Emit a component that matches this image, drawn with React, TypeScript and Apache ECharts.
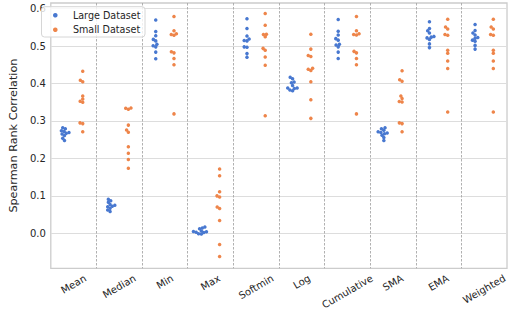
import React, { useEffect, useRef } from "react";
import * as echarts from "echarts";

// ---- data ----
const categories = ["Mean", "Median", "Min", "Max", "Softmin", "Log", "Cumulative", "SMA", "EMA", "Weighted"];
const seriesNames = ["Large Dataset", "Small Dataset"];

const largeMean = [0.282, 0.279, 0.274, 0.272, 0.269, 0.267, 0.265, 0.261, 0.254, 0.248];
const smallMean = [0.433, 0.409, 0.405, 0.367, 0.359, 0.353, 0.35, 0.295, 0.293, 0.271];
const largeMedian = [0.091, 0.087, 0.083, 0.077, 0.075, 0.072, 0.071, 0.067, 0.062, 0.058];
const smallMedian = [0.3345, 0.3315, 0.334, 0.289, 0.276, 0.27, 0.231, 0.214, 0.197, 0.174];
const largeMin = [0.57, 0.539, 0.528, 0.518, 0.514, 0.505, 0.501, 0.498, 0.484, 0.466];
const smallMin = [0.579, 0.541, 0.533, 0.531, 0.529, 0.485, 0.482, 0.467, 0.45, 0.319];
const largeMax = [0.017, 0.014, 0.012, 0.006, 0.005, 0.004, 0.003, 0.002, -0.001, -0.002];
const smallMax = [0.172, 0.154, 0.111, 0.1, 0.097, 0.07, 0.066, 0.034, -0.03, -0.062];
const largeSoftmin = [0.573, 0.547, 0.527, 0.519, 0.515, 0.514, 0.498, 0.497, 0.48, 0.47];
const smallSoftmin = [0.587, 0.556, 0.532, 0.531, 0.525, 0.494, 0.489, 0.471, 0.449, 0.314];
const largeLog = [0.417, 0.413, 0.404, 0.402, 0.395, 0.388, 0.388, 0.387, 0.383, 0.381];
const smallLog = [0.532, 0.492, 0.475, 0.472, 0.441, 0.438, 0.435, 0.405, 0.357, 0.307];
const largeCumulative = [0.571, 0.54, 0.53, 0.52, 0.516, 0.505, 0.503, 0.498, 0.484, 0.467];
const smallCumulative = [0.579, 0.541, 0.533, 0.531, 0.53, 0.486, 0.482, 0.467, 0.45, 0.319];
const largeSMA = [0.282, 0.279, 0.275, 0.271, 0.269, 0.268, 0.266, 0.262, 0.256, 0.248];
const smallSMA = [0.434, 0.41, 0.406, 0.367, 0.36, 0.352, 0.351, 0.295, 0.293, 0.271];
const largeEMA = [0.565, 0.547, 0.541, 0.535, 0.526, 0.524, 0.522, 0.518, 0.506, 0.496];
const smallEMA = [0.572, 0.551, 0.546, 0.531, 0.529, 0.489, 0.481, 0.46, 0.44, 0.324];
const largeWeighted = [0.558, 0.542, 0.535, 0.53, 0.523, 0.521, 0.516, 0.513, 0.502, 0.492];
const smallWeighted = [0.572, 0.551, 0.546, 0.531, 0.529, 0.489, 0.481, 0.46, 0.44, 0.324];

const largeData = [largeMean, largeMedian, largeMin, largeMax, largeSoftmin, largeLog, largeCumulative, largeSMA, largeEMA, largeWeighted];
const smallData = [smallMean, smallMedian, smallMin, smallMax, smallSoftmin, smallLog, smallCumulative, smallSMA, smallEMA, smallWeighted];

const yTicks = [0.0, 0.1, 0.2, 0.3, 0.4, 0.5, 0.6];

// ---- layout / style ----
const W = 509;
const H = 312;
const GRID = { left: 37, right: 0, top: 3, bottom: 43.7 };
const Y_MIN = -0.0935;
const Y_MAX = 0.6152;
const FONT = "DejaVu Sans";
const TEXT = "#262626";
const COLORS = ["#4878d0", "#ee854a"];
const HUE_OFFSET = 0.2;
const SWARM_D = 2.9;
const SYMBOL = 3.5;

const pxPerY = (H - GRID.top - GRID.bottom) / (Y_MAX - Y_MIN);
const pxPerCat = (W - GRID.left - GRID.right) / categories.length;

function swarmOffsets(vals: number[]): number[] {
  const order = vals.map((_, i) => i).sort((a, b) => vals[a] - vals[b]);
  const placed: { x: number; y: number }[] = [];
  const out = new Array(vals.length).fill(0);
  for (const i of order) {
    const y = vals[i] * pxPerY;
    const nb = placed.filter((p) => Math.abs(p.y - y) < SWARM_D);
    const cands = [0];
    for (const p of nb) {
      const dx = Math.sqrt(SWARM_D * SWARM_D - (p.y - y) * (p.y - y));
      cands.push(p.x - dx, p.x + dx);
    }
    cands.sort((a, b) => Math.abs(a) - Math.abs(b));
    let chosen = 0;
    for (const c of cands) {
      if (nb.every((p) => (c - p.x) ** 2 + (p.y - y) ** 2 >= SWARM_D * SWARM_D - 1e-6)) {
        chosen = c;
        break;
      }
    }
    placed.push({ x: chosen, y });
    out[i] = chosen;
  }
  return out;
}

function buildPoints(groups: number[][], hue: number): number[][] {
  const pts: number[][] = [];
  groups.forEach((vals, ci) => {
    const off = swarmOffsets(vals);
    vals.forEach((v, k) => {
      pts.push([ci + (hue === 0 ? -HUE_OFFSET : HUE_OFFSET) + off[k] / pxPerCat, v]);
    });
  });
  return pts;
}

function measure(text: string, size: number): number {
  const c = document.createElement("canvas").getContext("2d");
  if (!c) return text.length * size * 0.6;
  c.font = `${size}px "${FONT}"`;
  return c.measureText(text).width;
}

export default function App() {
  const ref = useRef<HTMLDivElement>(null);

  useEffect(() => {
    if (!ref.current) return;
    const chart = echarts.init(ref.current, undefined, { renderer: "svg" });

    const rich: Record<string, any> = {};
    categories.forEach((c, i) => {
      const d = measure(c, 10) / 4;
      rich["l" + i] = {
        fontSize: 10,
        fontFamily: FONT,
        color: TEXT,
        padding: [1.732 * d, d, 0, 0],
      };
    });

    chart.setOption({
      animation: false,
      textStyle: { fontFamily: FONT },
      grid: {
        left: GRID.left,
        right: GRID.right,
        top: GRID.top,
        bottom: GRID.bottom,
        show: true,
        borderColor: "#cccccc",
        borderWidth: 1.3,
        backgroundColor: "#ffffff",
      },
      legend: {
        orient: "vertical",
        left: 41.5,
        top: 6.7,
        icon: "circle",
        itemWidth: 4.6,
        itemHeight: 4.6,
        itemGap: 2.4,
        padding: [2.6, 4.5, 1.3, 11.5],
        borderColor: "#d6d6d6",
        borderWidth: 1,
        borderRadius: 3,
        backgroundColor: "rgba(255,255,255,0.8)",
        selectedMode: false,
        textStyle: {
          fontSize: 9.6,
          fontFamily: FONT,
          color: TEXT,
          lineHeight: 12,
          padding: [0, 0, 0, 10.3],
        },
        data: seriesNames,
      },
      xAxis: [
        {
          type: "category",
          data: categories,
          boundaryGap: true,
          axisLine: { show: false },
          axisTick: { show: false },
          splitLine: {
            show: true,
            showMinLine: false,
            showMaxLine: false,
            lineStyle: { color: "#a8a8a8", width: 0.9, type: [2.5, 1.5] },
          },
          axisLabel: {
            interval: 0,
            rotate: 30,
            align: "center",
            verticalAlign: "middle",
            margin: 9,
            fontSize: 10,
            fontFamily: FONT,
            color: TEXT,
            formatter: (v: string, i: number) => `{l${i}|${v}}`,
            rich,
          },
        },
        {
          type: "value",
          min: -0.5,
          max: categories.length - 0.5,
          show: false,
          splitLine: { show: false },
        },
      ],
      yAxis: {
        type: "value",
        min: Y_MIN,
        max: Y_MAX,
        splitNumber: 7,
        axisLine: { show: false },
        axisTick: { show: false },
        splitLine: {
          show: true,
          showMinLine: false,
          showMaxLine: false,
          lineStyle: { color: "#dddddd", width: 1 },
        },
        axisLabel: {
          showMinLabel: false,
          showMaxLabel: false,
          margin: 5,
          fontSize: 10,
          fontFamily: FONT,
          color: TEXT,
          formatter: (v: number) => {
            const t = yTicks.find((y) => Math.abs(y - v) < 1e-6);
            return t === undefined ? "" : t.toFixed(1);
          },
        },
        name: "Spearman Rank Correlation",
        nameLocation: "middle",
        nameGap: 25,
        nameTextStyle: { fontSize: 11.2, fontFamily: FONT, color: TEXT },
      },
      series: [
        {
          name: seriesNames[0],
          type: "scatter",
          xAxisIndex: 1,
          yAxisIndex: 0,
          symbol: "circle",
          symbolSize: SYMBOL,
          itemStyle: { color: COLORS[0], opacity: 1 },
          data: buildPoints(largeData, 0),
        },
        {
          name: seriesNames[1],
          type: "scatter",
          xAxisIndex: 1,
          yAxisIndex: 0,
          symbol: "circle",
          symbolSize: SYMBOL,
          itemStyle: { color: COLORS[1], opacity: 1 },
          data: buildPoints(smallData, 1),
        },
      ],
    });

    return () => chart.dispose();
  }, []);

  return (
    <div
      ref={ref}
      style={{ position: "fixed", left: 0, top: 0, width: W, height: H, background: "#ffffff" }}
    />
  );
}
